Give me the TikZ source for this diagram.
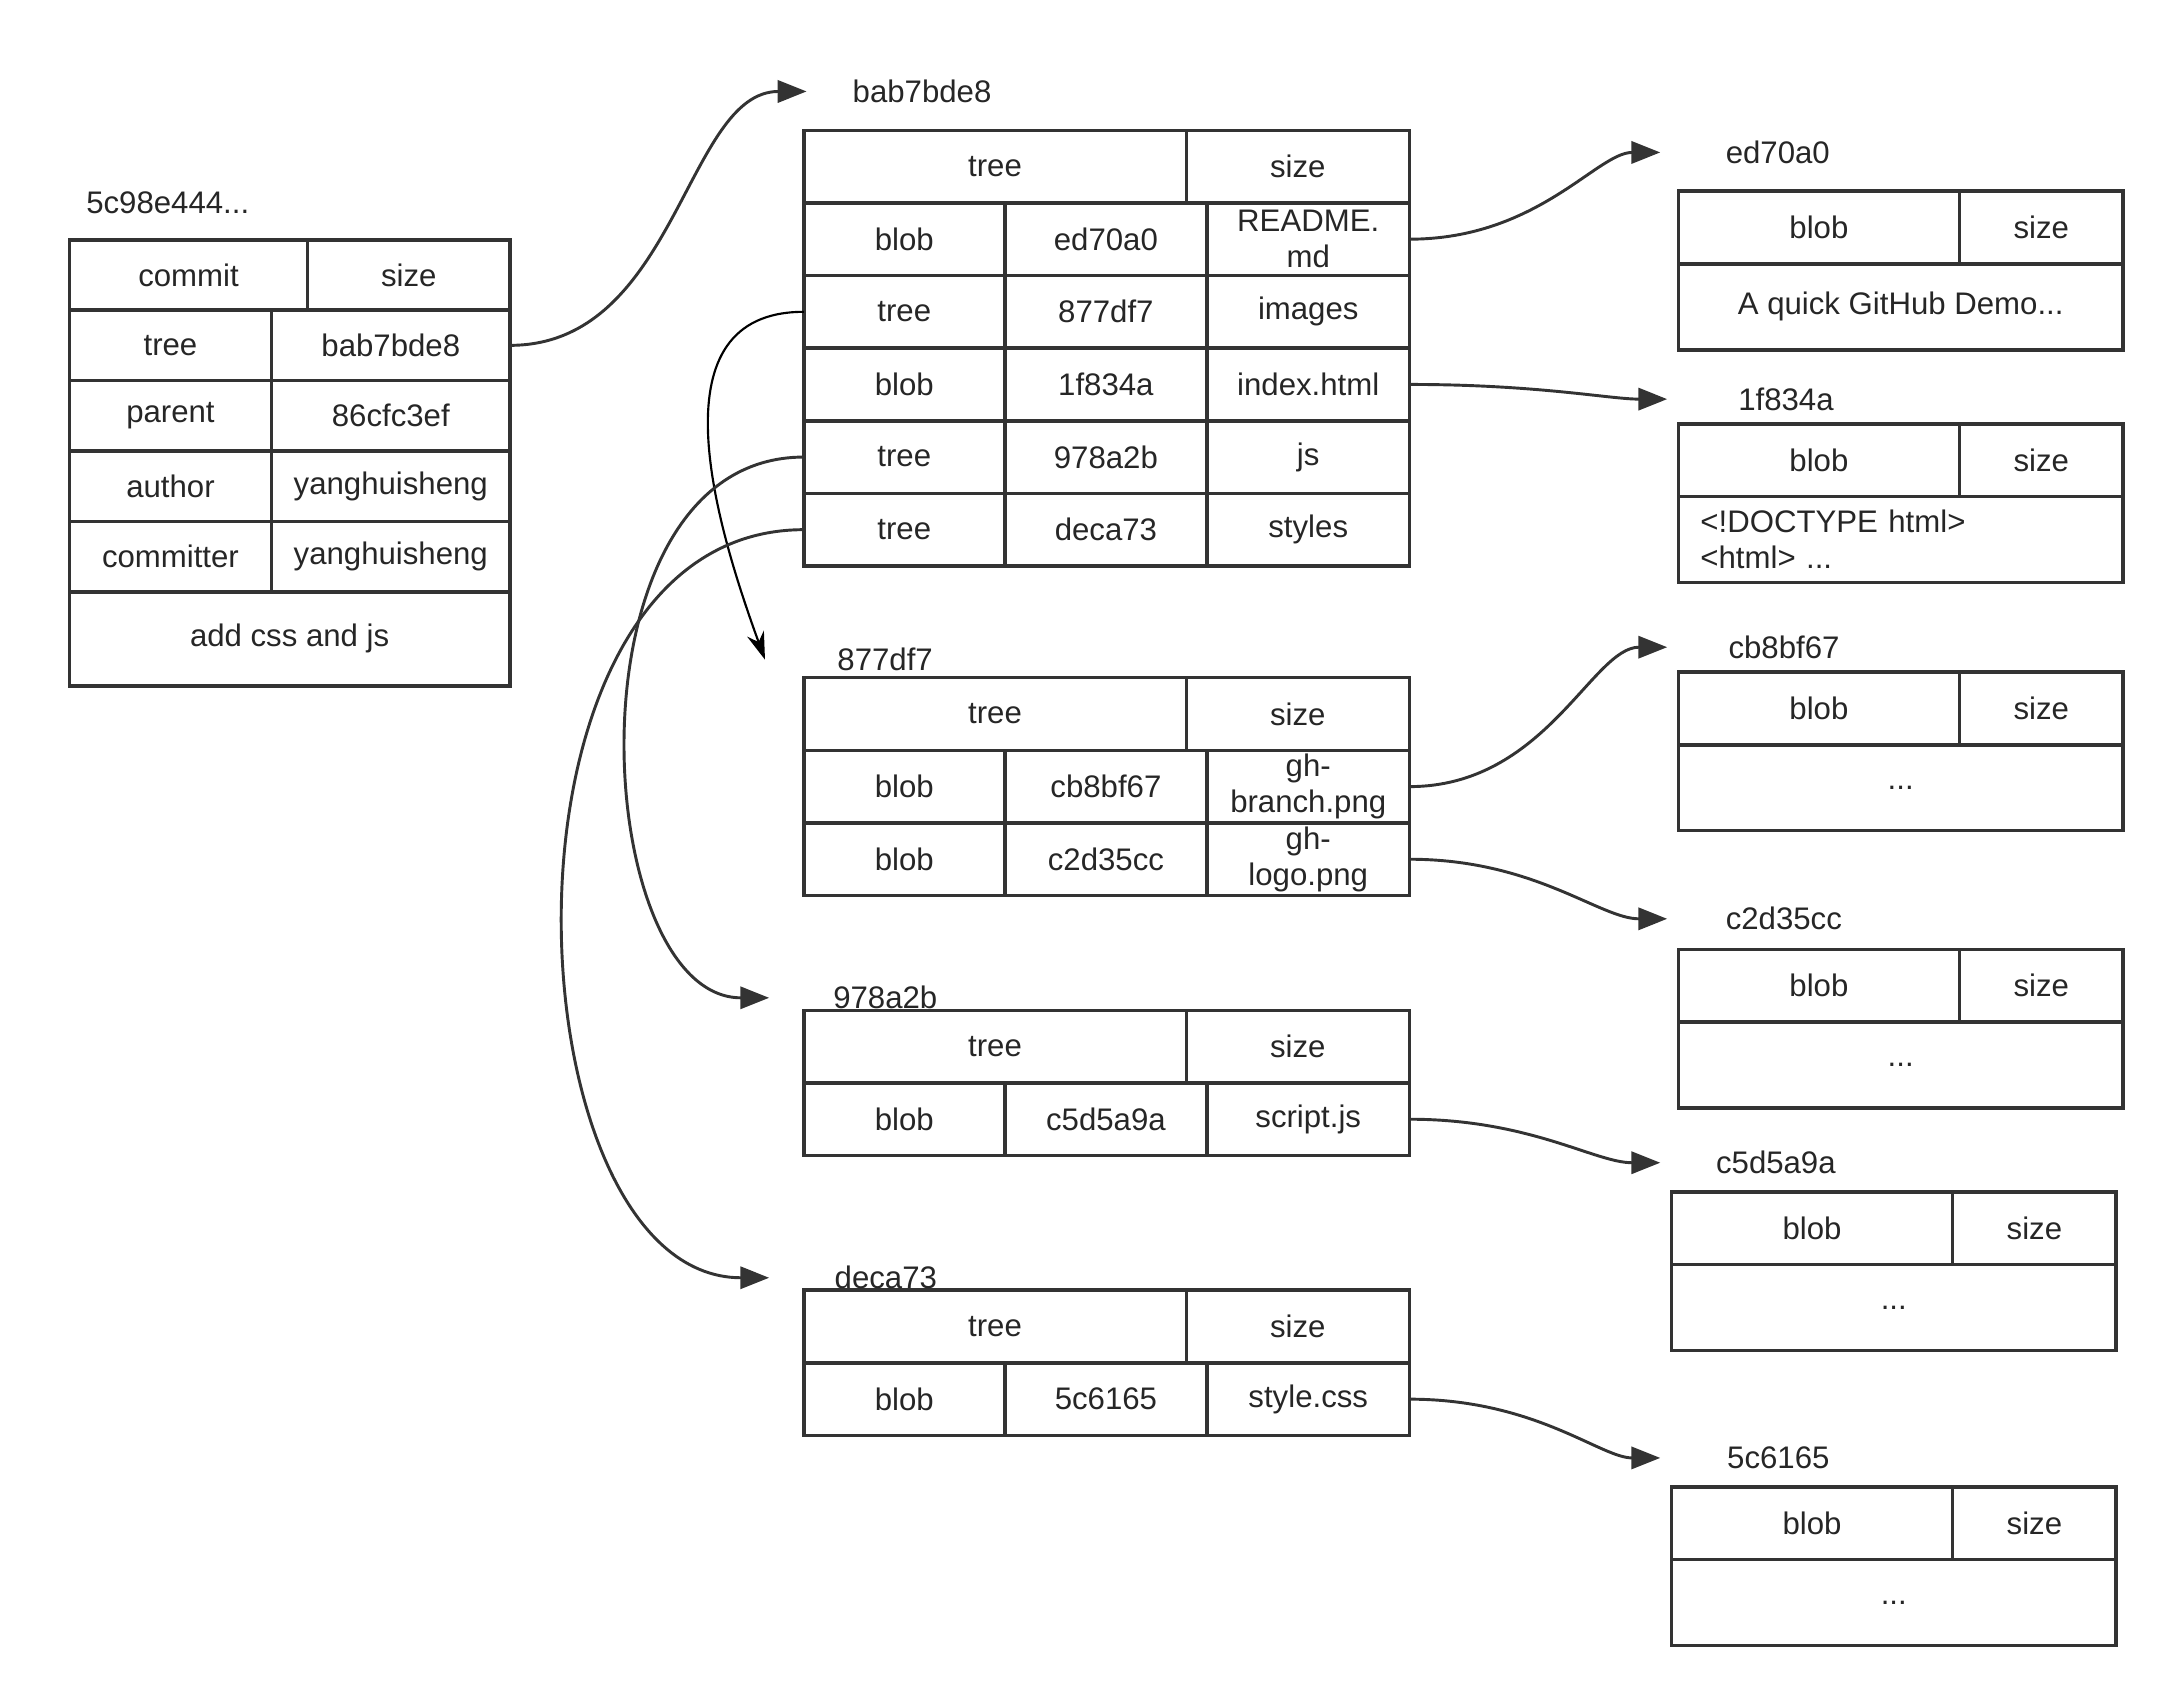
\documentclass[tikz,border=0pt]{standalone}
\usepackage{fontspec}
\setmainfont{Liberation Sans}
\usepackage{tikz}
\usetikzlibrary{arrows.meta,positioning,calc}
\definecolor{gtLine}{HTML}{333333}
\definecolor{gtInk}{HTML}{262626}
\newcommand{\cellfont}{\fontsize{16}{18.5}\selectfont}
\tikzset{
  % Table cell (one box of an object table)
  cell/.style={rectangle,draw=gtLine,line width=1.8pt,
    inner sep=0pt,outer sep=0pt,minimum height=1.31cm,
    align=center,font=\cellfont,text=gtInk},
  % Object id written above a table
  oid/.style={inner sep=0pt,anchor=west,font=\cellfont,text=gtInk},
  % Arrows
  arr/.style={-{Triangle[length=0.52cm,width=0.4cm]},line width=1.5pt,
    color=gtLine,shorten >=1.1cm},
  arrk/.style={-{Stealth[length=0.5cm,width=0.32cm]},line width=1.1pt,color=black},
}
\begin{document}
\begin{tikzpicture}
  \useasboundingbox (0,0) rectangle (39.2,-30.625);

  % commit 5c98e444
  \node[cell,minimum width=4.3cm,minimum height=1.27cm,anchor=north west] (commit) at (1.25,-4.325) {commit};
  \node[cell,minimum width=3.65cm,minimum height=1.27cm,right=0pt of commit] (csize) {size};
  \node[cell,minimum width=3.65cm,minimum height=1.27cm,anchor=north west] (ctree) at (commit.south west) {tree};
  \node[cell,minimum width=4.3cm,minimum height=1.27cm,right=0pt of ctree] (ctreeid) {bab7bde8};
  \node[cell,minimum width=3.65cm,minimum height=1.27cm,anchor=north west] (cparent) at (ctree.south west) {parent};
  \node[cell,minimum width=4.3cm,minimum height=1.27cm,right=0pt of cparent] (cparentid) {86cfc3ef};
  \node[cell,minimum width=3.65cm,minimum height=1.27cm,anchor=north west] (cauthor) at (cparent.south west) {author};
  \node[cell,minimum width=4.3cm,minimum height=1.27cm,right=0pt of cauthor] (cauthorname) {yanghuisheng};
  \node[cell,minimum width=3.65cm,minimum height=1.27cm,anchor=north west] (ccommitter) at (cauthor.south west) {committer};
  \node[cell,minimum width=4.3cm,minimum height=1.27cm,right=0pt of ccommitter] (ccommittername) {yanghuisheng};
  \node[cell,minimum width=7.95cm,minimum height=1.7cm,anchor=north west] (cmsg) at (ccommitter.south west) {add css and js};
  \node[oid] (lcommit) at ($(commit.north west)+(0.3,0.675)$) {5c98e444...};

  % tree bab7bde8
  \node[cell,minimum width=6.9cm,anchor=north west] (bbhead) at (14.5,-2.35) {tree};
  \node[cell,minimum width=4.025cm,right=0pt of bbhead] (bbsize) {size};
  \node[cell,minimum width=3.625cm,anchor=north west] (bbk1) at (bbhead.south west) {blob};
  \node[cell,minimum width=3.65cm,right=0pt of bbk1] (bbi1) {ed70a0};
  \node[cell,minimum width=3.65cm,right=0pt of bbi1] (bbn1) {README.\\md};
  \node[cell,minimum width=3.625cm,anchor=north west] (bbk2) at (bbk1.south west) {tree};
  \node[cell,minimum width=3.65cm,right=0pt of bbk2] (bbi2) {877df7};
  \node[cell,minimum width=3.65cm,right=0pt of bbi2] (bbn2) {images};
  \node[cell,minimum width=3.625cm,anchor=north west] (bbk3) at (bbk2.south west) {blob};
  \node[cell,minimum width=3.65cm,right=0pt of bbk3] (bbi3) {1f834a};
  \node[cell,minimum width=3.65cm,right=0pt of bbi3] (bbn3) {index.html};
  \node[cell,minimum width=3.625cm,anchor=north west] (bbk4) at (bbk3.south west) {tree};
  \node[cell,minimum width=3.65cm,right=0pt of bbk4] (bbi4) {978a2b};
  \node[cell,minimum width=3.65cm,right=0pt of bbi4] (bbn4) {js};
  \node[cell,minimum width=3.625cm,anchor=north west] (bbk5) at (bbk4.south west) {tree};
  \node[cell,minimum width=3.65cm,right=0pt of bbk5] (bbi5) {deca73};
  \node[cell,minimum width=3.65cm,right=0pt of bbi5] (bbn5) {styles};
  \node[oid] (lbb) at ($(bbhead.north west)+(0.875,0.7)$) {bab7bde8};

  % tree 877df7
  \node[cell,minimum width=6.9cm,anchor=north west] (imhead) at (14.5,-12.225) {tree};
  \node[cell,minimum width=4.025cm,right=0pt of imhead] (imsize) {size};
  \node[cell,minimum width=3.625cm,anchor=north west] (imk1) at (imhead.south west) {blob};
  \node[cell,minimum width=3.65cm,right=0pt of imk1] (imi1) {cb8bf67};
  \node[cell,minimum width=3.65cm,right=0pt of imi1] (imn1) {gh-\\branch.png};
  \node[cell,minimum width=3.625cm,anchor=north west] (imk2) at (imk1.south west) {blob};
  \node[cell,minimum width=3.65cm,right=0pt of imk2] (imi2) {c2d35cc};
  \node[cell,minimum width=3.65cm,right=0pt of imi2] (imn2) {gh-\\logo.png};
  \node[oid] (lim) at ($(imhead.north west)+(0.6,0.325)$) {877df7};
  \coordinate[left=1.3cm of lim] (tim);

  % tree 978a2b
  \node[cell,minimum width=6.9cm,anchor=north west] (jshead) at (14.5,-18.225) {tree};
  \node[cell,minimum width=4.025cm,right=0pt of jshead] (jssize) {size};
  \node[cell,minimum width=3.625cm,anchor=north west] (jsk1) at (jshead.south west) {blob};
  \node[cell,minimum width=3.65cm,right=0pt of jsk1] (jsi1) {c5d5a9a};
  \node[cell,minimum width=3.65cm,right=0pt of jsi1] (jsn1) {script.js};
  \node[oid] (ljs) at ($(jshead.north west)+(0.525,0.225)$) {978a2b};

  % tree deca73
  \node[cell,minimum width=6.9cm,anchor=north west] (sthead) at (14.5,-23.275) {tree};
  \node[cell,minimum width=4.025cm,right=0pt of sthead] (stsize) {size};
  \node[cell,minimum width=3.625cm,anchor=north west] (stk1) at (sthead.south west) {blob};
  \node[cell,minimum width=3.65cm,right=0pt of stk1] (sti1) {5c6165};
  \node[cell,minimum width=3.65cm,right=0pt of sti1] (stn1) {style.css};
  \node[oid] (lst) at ($(sthead.north west)+(0.55,0.225)$) {deca73};

  % blobs
  \node[cell,minimum width=5.075cm,anchor=north west] (edhead) at (30.275,-3.45) {blob};
  \node[cell,minimum width=2.95cm,right=0pt of edhead] (edsize) {size};
  \node[cell,minimum width=8.025cm,minimum height=1.55cm,anchor=north west] (edbody) at (edhead.south west) {A quick GitHub Demo...};
  \node[oid] (led) at ($(edhead.north west)+(0.85,0.7)$) {ed70a0};

  \node[cell,minimum width=5.075cm,anchor=north west] (fahead) at (30.275,-7.65) {blob};
  \node[cell,minimum width=2.95cm,right=0pt of fahead] (fasize) {size};
  \node[cell,minimum width=8.025cm,minimum height=1.55cm,text width=7.225cm,
    inner xsep=0.4cm,align=left,anchor=north west] (fabody) at (fahead.south west)
    {<!DOCTYPE html>\\<html> ...};
  \node[oid] (lfa) at ($(fahead.north west)+(1.075,0.45)$) {1f834a};

  \node[cell,minimum width=5.075cm,anchor=north west] (cbhead) at (30.275,-12.125) {blob};
  \node[cell,minimum width=2.95cm,right=0pt of cbhead] (cbsize) {size};
  \node[cell,minimum width=8.025cm,minimum height=1.55cm,anchor=north west] (cbbody) at (cbhead.south west) {...};
  \node[oid] (lcb) at ($(cbhead.north west)+(0.9,0.45)$) {cb8bf67};

  \node[cell,minimum width=5.075cm,anchor=north west] (cchead) at (30.275,-17.125) {blob};
  \node[cell,minimum width=2.95cm,right=0pt of cchead] (ccsize) {size};
  \node[cell,minimum width=8.025cm,minimum height=1.55cm,anchor=north west] (ccbody) at (cchead.south west) {...};
  \node[oid] (lcc) at ($(cchead.north west)+(0.85,0.55)$) {c2d35cc};

  \node[cell,minimum width=5.075cm,anchor=north west] (cfhead) at (30.15,-21.5) {blob};
  \node[cell,minimum width=2.95cm,right=0pt of cfhead] (cfsize) {size};
  \node[cell,minimum width=8.025cm,minimum height=1.55cm,anchor=north west] (cfbody) at (cfhead.south west) {...};
  \node[oid] (lcf) at ($(cfhead.north west)+(0.8,0.525)$) {c5d5a9a};

  \node[cell,minimum width=5.075cm,anchor=north west] (schead) at (30.15,-26.825) {blob};
  \node[cell,minimum width=2.95cm,right=0pt of schead] (scsize) {size};
  \node[cell,minimum width=8.025cm,minimum height=1.55cm,anchor=north west] (scbody) at (schead.south west) {...};
  \node[oid] (lsc) at ($(schead.north west)+(1.0,0.525)$) {5c6165};

  % links
  \draw[arr,shorten >=0.825cm] (ctreeid.east) to[out=0,in=180] (lbb.west);
  \draw[arr,shorten >=1.175cm] (bbn1.east) to[out=0,in=180] (led.west);
  \draw[arr,shorten >=1.275cm] (bbn3.east) to[out=0,in=180] (lfa.west);
  \draw[arrk] (bbk2.west) to[out=180,in=110,looseness=1.1] (tim);
  \draw[arr,shorten >=1.15cm] (bbk4.west) to[out=180,in=180,looseness=1.15] (ljs.west);
  \draw[arr,shorten >=1.175cm] (bbk5.west) to[out=180,in=180,looseness=1.12] (lst.west);
  \draw[arr] (imn1.east) to[out=0,in=180] (lcb.west);
  \draw[arr,shorten >=1.05cm] (imn2.east) to[out=0,in=180] (lcc.west);
  \draw[arr,shorten >=1.0cm] (jsn1.east) to[out=0,in=180] (lcf.west);
  \draw[arr,shorten >=1.2cm] (stn1.east) to[out=0,in=180] (lsc.west);
\end{tikzpicture}
\end{document}
